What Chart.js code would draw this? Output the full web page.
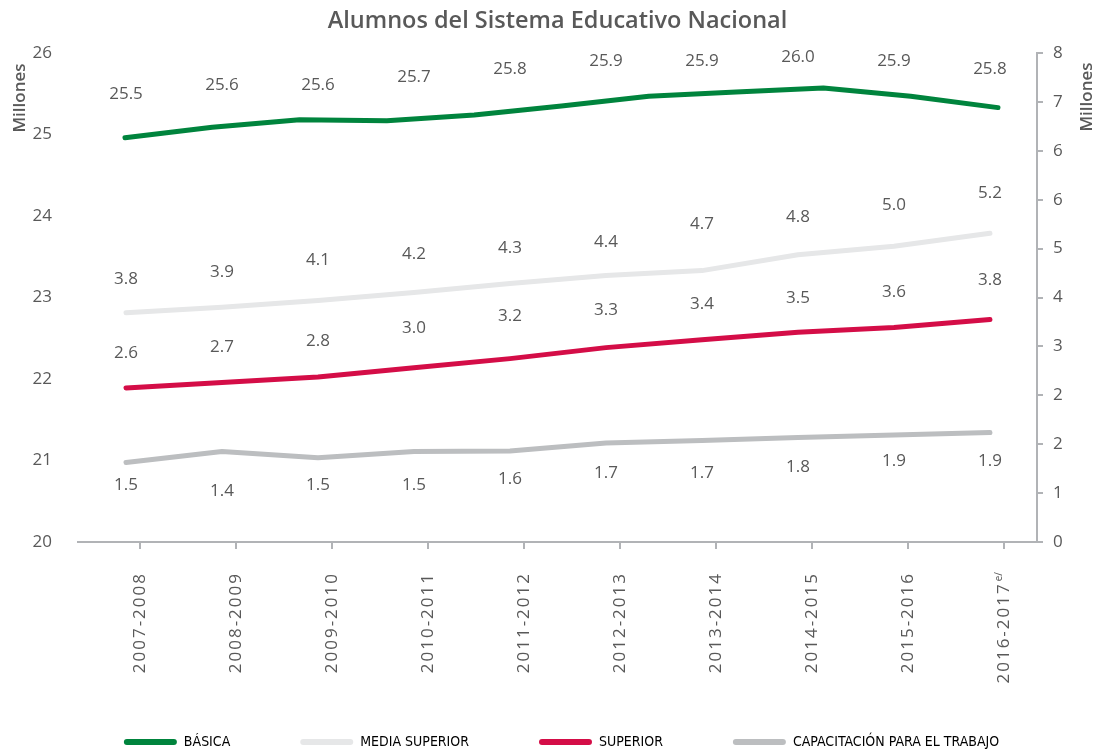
<!DOCTYPE html>
<html>
<head>
<meta charset="utf-8">
<script src="https://cdn.jsdelivr.net/npm/chart.js@4.4.1/dist/chart.umd.min.js"></script>
<style>
  html, body { margin: 0; background: #fff; }
  #wrap { width: 1099px; height: 750px; }
</style>
</head>
<body>
<div id="wrap"><canvas id="grafica"></canvas></div>
<script>
/* ===== datos ===== */
const periodos = ['2007-2008', '2008-2009', '2009-2010', '2010-2011', '2011-2012',
                  '2012-2013', '2013-2014', '2014-2015', '2015-2016', '2016-2017'];
const notaUltimo = 'e/';

// trazo de cada serie (como aparece dibujado)
const basicaLinea   = [24.96, 25.09, 25.18, 25.17, 25.24, 25.35, 25.47, 25.52, 25.57, 25.47, 25.33];
const mediaLinea    = [3.75, 3.84, 3.95, 4.08, 4.23, 4.36, 4.44, 4.70, 4.84, 5.05];
const superiorLinea = [2.52, 2.61, 2.70, 2.85, 3.00, 3.18, 3.31, 3.43, 3.51, 3.64];
const capLinea      = [1.30, 1.48, 1.38, 1.48, 1.49, 1.62, 1.66, 1.71, 1.75, 1.79];

// etiquetas (millones)
const basicaEtiq   = [25.5, 25.6, 25.6, 25.7, 25.8, 25.9, 25.9, 26.0, 25.9, 25.8];
const mediaEtiq    = [3.8, 3.9, 4.1, 4.2, 4.3, 4.4, 4.7, 4.8, 5.0, 5.2];
const superiorEtiq = [2.6, 2.7, 2.8, 3.0, 3.2, 3.3, 3.4, 3.5, 3.6, 3.8];
const capEtiq      = [1.5, 1.4, 1.5, 1.5, 1.6, 1.7, 1.7, 1.8, 1.9, 1.9];

// ejes
const izqMin = 20, izqMax = 26, izqPaso = 1;
const derMin = 0, derMax = 8, derPaso = 0.8;

const GRIS_TXT = '#595959';
const GRIS_EJE = '#b1b3b6';
const FUENTE = '"Open Sans", "Noto Sans", sans-serif';

const pts = arr => arr.map((v, i) => ({ x: i, y: v }));

/* etiquetas de valores, títulos de eje y rótulos del eje x */
const decor = {
  id: 'decor',
  afterDatasetsDraw(chart) {
    const { ctx, chartArea, scales } = chart;
    const series = [
      { vals: basicaEtiq,   eje: 'y',  dy: 0 },
      { vals: mediaEtiq,    eje: 'y2', dy: -31 },
      { vals: superiorEtiq, eje: 'y2', dy: -30 },
      { vals: capEtiq,      eje: 'y2', dy: 35 },
    ];
    ctx.save();
    ctx.font = '17px ' + FUENTE;
    ctx.fillStyle = GRIS_TXT;
    ctx.textAlign = 'center';
    ctx.textBaseline = 'middle';
    series.forEach(s => {
      s.vals.forEach((v, i) => {
        const x = scales.x.getPixelForValue(i);
        const y = Math.max(scales[s.eje].getPixelForValue(v) + s.dy, chartArea.top + 4);
        ctx.fillText(v.toFixed(1), x, y);
      });
    });
    ctx.restore();
  },
  afterDraw(chart) {
    const { ctx, scales } = chart;
    const sx = scales.x;
    ctx.save();
    ctx.fillStyle = GRIS_TXT;
    ctx.textBaseline = 'middle';
    sx.ticks.forEach((t, i) => {
      const x = sx.getPixelForValue(t.value);
      ctx.save();
      ctx.translate(x, sx.top + 30);
      ctx.rotate(-Math.PI / 2);
      ctx.textAlign = 'right';
      let off = 0;
      if (i === periodos.length - 1) {
        ctx.font = '10px ' + FUENTE;
        ctx.letterSpacing = '0px';
        ctx.fillText(notaUltimo, 0, -5);
        off = ctx.measureText(notaUltimo).width + 1;
      }
      ctx.font = '17px ' + FUENTE;
      ctx.letterSpacing = '2px';
      ctx.fillText(periodos[i], -off, 0);
      ctx.restore();
    });

    // títulos "Millones"
    ctx.font = '600 17px ' + FUENTE;
    ctx.textAlign = 'center';
    [[20, 98], [1087, 97]].forEach(([x, y]) => {
      ctx.save();
      ctx.translate(x, y);
      ctx.rotate(-Math.PI / 2);
      ctx.fillText('Millones', 0, 0);
      ctx.restore();
    });
    ctx.restore();
  },
};

const linea = (label, data, color, xAxisID, yAxisID) => ({
  label, data, xAxisID, yAxisID,
  borderColor: color,
  backgroundColor: color,
  borderWidth: 5,
  borderCapStyle: 'round',
  borderJoinStyle: 'round',
  pointRadius: 0,
  tension: 0,
});

new Chart(document.getElementById('grafica'), {
  type: 'line',
  data: {
    datasets: [
      linea('BÁSICA', pts(basicaLinea), '#00843d', 'xb', 'y'),
      linea('MEDIA SUPERIOR', pts(mediaLinea), '#e6e7e8', 'x', 'y2'),
      linea('SUPERIOR', pts(superiorLinea), '#d40d47', 'x', 'y2'),
      linea('CAPACITACIÓN PARA EL TRABAJO', pts(capLinea), '#bcbec0', 'x', 'y2'),
    ],
  },
  options: {
    responsive: true,
    maintainAspectRatio: false,
    animation: false,
    layout: { padding: { left: 24, right: 0, top: 0, bottom: 0 } },
    plugins: {
      tooltip: { enabled: false },
      title: {
        display: true,
        text: 'Alumnos del Sistema Educativo Nacional',
        fullSize: false,
        color: GRIS_TXT,
        font: { family: FUENTE, size: 23.5, weight: '600', lineHeight: 1.2 },
        padding: { top: 7, bottom: 17.8 },
      },
      legend: {
        position: 'bottom',
        maxHeight: 85,
        labels: {
          color: '#666666',
          font: { family: '"Liberation Sans Narrow", "DejaVu Sans Condensed", ' + FUENTE, size: 14 },
          boxWidth: 53,
          boxHeight: 6,
          useBorderRadius: true,
          borderRadius: 3,
          padding: 70,
          generateLabels: ch => ch.data.datasets.map((d, i) => ({
            text: d.label, fillStyle: d.borderColor, strokeStyle: d.borderColor,
            lineWidth: 0, hidden: false, datasetIndex: i, borderRadius: 3,
          })),
        },
      },
    },
    scales: {
      x: {
        type: 'linear', position: 'bottom',
        min: -0.5, max: 9.49,
        afterBuildTicks: s => { s.ticks = periodos.map((p, i) => ({ value: i + 0.146 })); },
        afterFit: s => { s.height = 123; },
        ticks: { display: false },
        grid: { drawOnChartArea: false, color: GRIS_EJE, lineWidth: 2, tickLength: 7 },
        border: { color: GRIS_EJE, width: 2 },
      },
      xb: {
        type: 'linear', display: false,
        min: -0.538, max: 10.447,
      },
      y: {
        position: 'left',
        min: izqMin, max: izqMax,
        afterFit: s => { s.width = 54; },
        ticks: { stepSize: izqPaso, color: GRIS_TXT, padding: 18, font: { family: FUENTE, size: 17 } },
        grid: { display: false },
        border: { display: false },
      },
      y2: {
        position: 'right',
        min: derMin, max: derMax,
        afterFit: s => { s.width = 62; },
        ticks: {
          stepSize: derPaso, color: GRIS_TXT, padding: 10,
          font: { family: FUENTE, size: 17 },
          callback: v => Math.round(v),
        },
        grid: { drawOnChartArea: false, color: GRIS_EJE, lineWidth: 2, tickLength: 6 },
        border: { color: GRIS_EJE, width: 2 },
      },
    },
  },
  plugins: [decor],
});
</script>
</body>
</html>
